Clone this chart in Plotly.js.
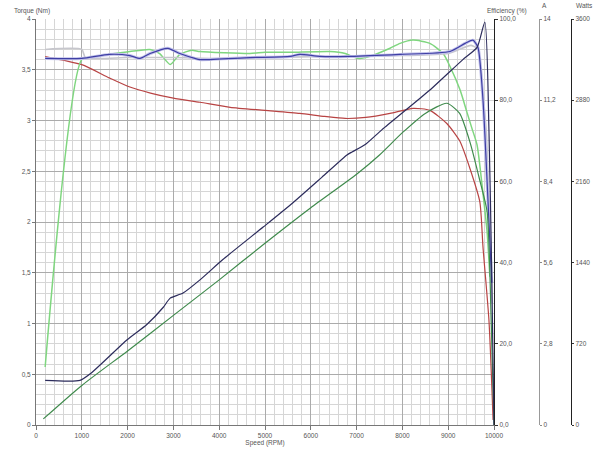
<!DOCTYPE html>
<html>
<head>
<meta charset="utf-8">
<script src="https://cdn.plot.ly/plotly-3.0.1.min.js"></script>
<style>html,body{margin:0;padding:0;background:#fff;}#chart{width:598px;height:453px;}</style>
</head>
<body>
<div id="chart"></div>
<script>
// Torque (Nm) - red
const torqueRpm = [200, 1000, 1600, 2050, 2500, 3000, 3580, 4240, 5000, 5760, 6300, 6750, 7200, 7730, 8230, 8600, 8970, 9250, 9480, 9690, 9760, 9890, 9980];
const torqueNm  = [3.63, 3.55, 3.42, 3.33, 3.27, 3.22, 3.18, 3.13, 3.10, 3.07, 3.04, 3.02, 3.03, 3.07, 3.12, 3.10, 2.97, 2.80, 2.52, 2.20, 1.75, 1.03, 0.05];

// Efficiency (%) - light green
const effRpm = [200, 1000, 1300, 1600, 2050, 2490, 2700, 2930, 3140, 3400, 3580, 4670, 5000, 5550, 6420, 6750, 6965, 7070, 7290, 7730, 7950, 8230, 8600, 8890, 9040, 9260, 9410, 9520, 9630, 9760, 9850, 9910];
const effPct = [14.3, 90.0, 90.8, 91.3, 92.0, 92.5, 91.5, 88.8, 91.3, 92.3, 92.0, 91.5, 91.8, 91.8, 92.0, 91.5, 90.5, 90.3, 90.8, 92.8, 94.0, 94.8, 94.0, 91.5, 88.3, 82.5, 77.0, 73.0, 69.0, 57.0, 47.5, 36.5];

// Output power (W) - dark green
const outRpm = [160, 1000, 2000, 3000, 4000, 5000, 6000, 7000, 7500, 8000, 8500, 8970, 9250, 9480, 9690, 9850, 9940, 10000];
const outW   = [54, 351, 657, 972, 1287, 1611, 1926, 2223, 2394, 2592, 2763, 2853, 2763, 2502, 2169, 1890, 900, 0];

// Input power (W) - navy
const inRpm = [200, 960, 1200, 1990, 2420, 2780, 2930, 3210, 3580, 4080, 4960, 5610, 6240, 6790, 6900, 7180, 7555, 8600, 9320, 9630, 9800, 9890, 9950, 10000];
const inW   = [396, 396, 459, 756, 891, 1044, 1125, 1170, 1287, 1467, 1755, 1971, 2196, 2394, 2421, 2484, 2619, 2970, 3240, 3348, 3573, 2610, 1350, 0];

// Current (A) - blue
const curRpm = [200, 1000, 1600, 2050, 2270, 2490, 2880, 3140, 3470, 3580, 4670, 5550, 5760, 6200, 6860, 7950, 9040, 9370, 9540, 9650, 9760, 9870, 9950];
const curA   = [12.64, 12.64, 12.78, 12.74, 12.64, 12.81, 12.99, 12.81, 12.64, 12.60, 12.67, 12.71, 12.78, 12.71, 12.71, 12.78, 12.88, 13.16, 13.27, 13.02, 11.2, 7.7, 4.9];

// Second current trace - light grey
const greyRpm = [200, 1000, 1080, 2000, 3000, 4000, 5000, 6000, 7000, 8000, 9000, 9500, 9650, 9750, 9830, 9900, 9960];
const greyA   = [12.95, 12.95, 12.67, 12.67, 12.67, 12.64, 12.67, 12.70, 12.71, 12.74, 12.81, 13.09, 12.95, 11.55, 10.15, 7.0, 4.2];

// Axis tick values
const effTicks = [0, 20, 40, 60, 80, 100];
const ampTicks = [0, 2.8, 5.6, 8.4, 11.2, 14];
const wattTicks = [0, 720, 1440, 2160, 2880, 3600];

const sp = {shape: 'spline', smoothing: 0.6};
const traces = [
  {x: greyRpm, y: greyA, yaxis: 'y3', mode: 'lines', line: Object.assign({color: '#c6c6cc', width: 1.6}, sp)},
  {x: curRpm, y: curA, yaxis: 'y3', mode: 'lines', line: Object.assign({color: '#c2c2ea', width: 3.0}, sp)},
  {x: curRpm, y: curA, yaxis: 'y3', mode: 'lines', line: Object.assign({color: '#3e3ea4', width: 1.2}, sp)},
  {x: effRpm, y: effPct, yaxis: 'y2', mode: 'lines', line: Object.assign({color: '#7fd67f', width: 1.5}, sp)},
  {x: torqueRpm, y: torqueNm, yaxis: 'y', mode: 'lines', line: Object.assign({color: '#b84444', width: 1.2}, sp)},
  {x: outRpm, y: outW, yaxis: 'y4', mode: 'lines', line: Object.assign({color: '#3f8a4c', width: 1.2}, sp)},
  {x: inRpm, y: inW, yaxis: 'y4', mode: 'lines', line: Object.assign({color: '#2c2c5c', width: 1.2}, sp)}
];

const tf = {family: 'Liberation Sans, Arial, sans-serif', size: 6.5, color: '#555'};
const plotW = 598 - 36 - 20;
const layout = {
  width: 598, height: 453,
  margin: {l: 36, r: 20, t: 19, b: 28, pad: 0},
  paper_bgcolor: '#fff', plot_bgcolor: '#fff',
  showlegend: false,
  hovermode: false,
  separators: ',.',
  font: tf,
  xaxis: {
    domain: [0, 458 / plotW], range: [0, 10000], dtick: 1000, tickformat: 'd',
    ticks: 'outside', ticklen: 4, tickcolor: '#777', tickfont: tf,
    showline: true, linecolor: '#777', linewidth: 1,
    showgrid: true, gridcolor: '#ababab', gridwidth: 1, zeroline: false,
    minor: {dtick: 200, showgrid: true, gridcolor: '#d6d6d6', gridwidth: 1},
    title: {text: 'Speed (RPM)', font: tf, standoff: 2}
  },
  yaxis: {
    range: [0, 4], dtick: 0.5,
    ticks: 'outside', ticklen: 3, tickcolor: '#777', tickfont: tf,
    showline: true, linecolor: '#777', linewidth: 1,
    showgrid: true, gridcolor: '#ababab', gridwidth: 1, zeroline: false,
    minor: {dtick: 0.1, showgrid: true, gridcolor: '#d6d6d6', gridwidth: 1}
  },
  yaxis2: {
    overlaying: 'y', side: 'right', anchor: 'x', range: [0, 100], tickvals: effTicks, tickformat: '.1f',
    ticks: 'outside', ticklen: 3, tickcolor: '#333', tickfont: tf,
    showline: true, linecolor: '#222', linewidth: 1.2, showgrid: false, zeroline: false
  },
  yaxis3: {
    overlaying: 'y', side: 'right', anchor: 'free', position: (539 - 36) / plotW, range: [0, 14], tickvals: ampTicks,
    ticks: 'outside', ticklen: 2, tickcolor: '#888', tickfont: tf,
    showline: true, linecolor: '#999', linewidth: 1.2, showgrid: false, zeroline: false
  },
  yaxis4: {
    overlaying: 'y', side: 'right', anchor: 'free', position: (571 - 36) / plotW, range: [0, 3600], tickvals: wattTicks, tickformat: 'd',
    ticks: 'outside', ticklen: 2, tickcolor: '#333', tickfont: tf,
    showline: true, linecolor: '#222', linewidth: 1.2, showgrid: false, zeroline: false
  },
  annotations: [
    {text: 'Torque (Nm)', xref: 'paper', yref: 'paper', x: -4 / plotW, y: 1, yshift: 2, xanchor: 'center', yanchor: 'bottom', showarrow: false, font: tf},
    {text: 'Efficiency (%)', xref: 'paper', yref: 'paper', x: (507 - 36) / plotW, y: 1, yshift: 2, xanchor: 'center', yanchor: 'bottom', showarrow: false, font: tf},
    {text: 'A', xref: 'paper', yref: 'paper', x: (544 - 36) / plotW, y: 1, yshift: 8, xanchor: 'center', yanchor: 'bottom', showarrow: false, font: tf},
    {text: 'Watts', xref: 'paper', yref: 'paper', x: (584 - 36) / plotW, y: 1, yshift: 8, xanchor: 'center', yanchor: 'bottom', showarrow: false, font: tf}
  ]
};

Plotly.newPlot('chart', traces, layout, {staticPlot: true, displayModeBar: false});
</script>
</body>
</html>
